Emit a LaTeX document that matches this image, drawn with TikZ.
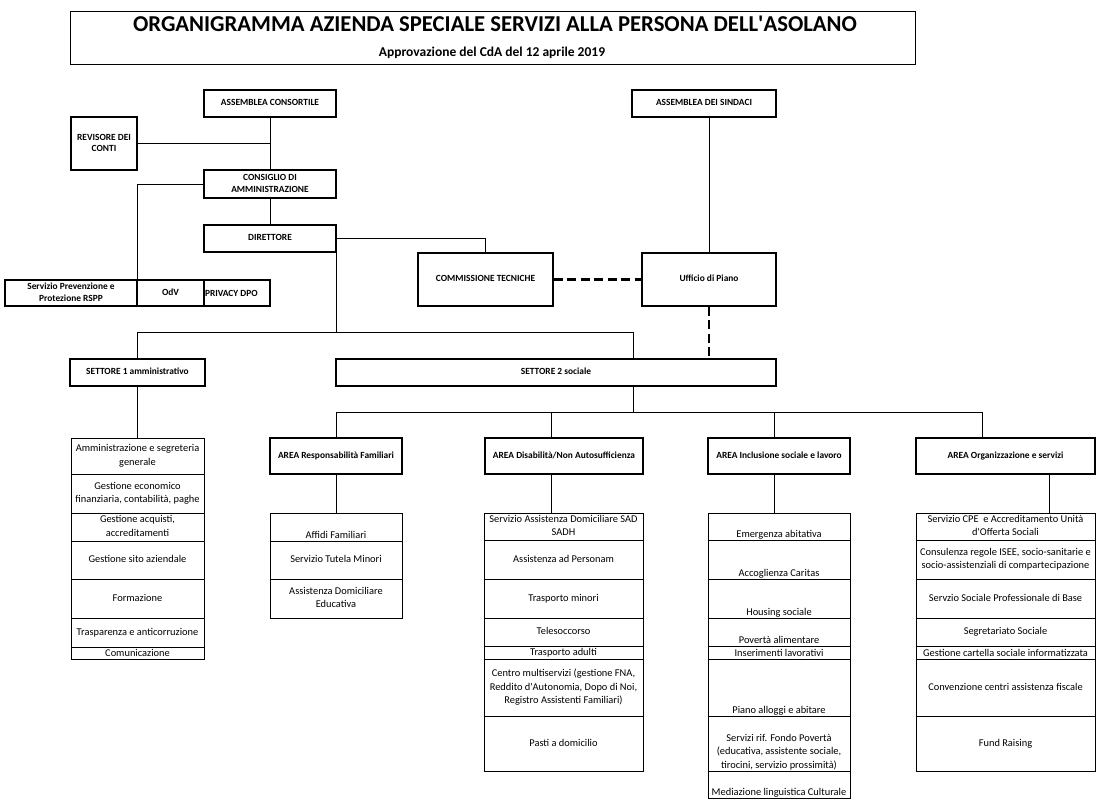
\documentclass[tikz,border=0pt]{standalone}
\usepackage{fontspec}
\setmainfont{Carlito}
\hyphenpenalty=10000
\exhyphenpenalty=10000
\tikzset{
  hbox/.style={draw, line width=1.8pt, font=\bfseries\fontsize{9.4}{11.5}\selectfont},
  cellbox/.style={draw, line width=0.9pt, font=\fontsize{10.4}{13.5}\selectfont},
  conn/.style={line width=0.9pt},
  dconn/.style={line width=2.2pt, dash pattern=on 9pt off 4.5pt},
}
% #1 style, #2 name, #3 x1, #4 y1, #5 x2, #6 y2, #7 valign (c/b), #8 text
\newcommand\mkcell[8]{%
  \pgfmathsetmacro\cellw{#5-#3}%
  \pgfmathsetmacro\cellh{#6-#4}%
  \node[#1, minimum width=\cellw pt, minimum height=\cellh pt, inner sep=0pt] (#2) at ({(#3+#5)/2},{(#4+#6)/2})
    {\parbox[c][\cellh pt][#7]{\cellw pt}{\centering\strut #8\strut\par\vspace{0pt}}};}
% bottom-aligned cell: #1 style, #2 name, #3 x1, #4 y1, #5 x2, #6 y2, #7 text
\newcommand\mkbot[7]{%
  \pgfmathsetmacro\cellw{#5-#3}%
  \pgfmathsetmacro\cellh{#6-#4}%
  \node[#1, minimum width=\cellw pt, minimum height=\cellh pt, inner sep=0pt] (#2) at ({(#3+#5)/2},{(#4+#6)/2})
    {\parbox[c][\cellh pt][b]{\cellw pt}{\centering\strut #7\strut\par\vspace{-1.5pt}}};}
\newcommand\mkthin[7]{%
  \pgfmathsetmacro\cellw{#5-#3}%
  \pgfmathsetmacro\cellh{#6-#4}%
  \node[#1, minimum width=\cellw pt, minimum height=\cellh pt, inner sep=0pt] (#2) at ({(#3+#5)/2},{(#4+#6)/2}) {#7};}
\begin{document}
\begin{tikzpicture}[x=1pt,y=-1pt]
\useasboundingbox (0,0) rectangle (1105,806);
% title
\node[draw, line width=1pt, minimum width=845pt, minimum height=53pt, inner sep=0pt] (tbox) at (492.5,37.5) {};
\node[anchor=base, inner sep=0pt, font=\bfseries\fontsize{22.7}{26}\selectfont] (ttl) at (495,31) {ORGANIGRAMMA AZIENDA SPECIALE SERVIZI ALLA PERSONA DELL\textquotesingle ASOLANO};
\node[anchor=base, inner sep=0pt, font=\bfseries\fontsize{13.5}{16}\selectfont] (sub) at (492,56) {Approvazione del CdA del 12 aprile 2019};
% upper boxes
\mkcell{hbox}{ac}{204}{90}{336}{117}{c}{ASSEMBLEA CONSORTILE}
\mkcell{hbox}{rev}{71}{117}{137}{170}{c}{REVISORE DEI\\CONTI}
\mkcell{hbox}{cda}{204}{170}{336}{198}{c}{CONSIGLIO DI\\AMMINISTRAZIONE}
\mkcell{hbox}{dir}{204}{225}{336}{252}{c}{DIRETTORE}
\mkcell{hbox}{rspp}{5}{280}{137}{306}{c}{Servizio Prevenzione e\\Protezione RSPP}
\mkcell{hbox}{odv}{137}{280}{204}{306}{c}{OdV}
\node[hbox, minimum width=66pt, minimum height=26pt, inner sep=0pt] (dpo) at (237,293) {\parbox{66pt}{\hspace*{1pt}PRIVACY DPO\hfill}};
\mkcell{hbox}{comm}{418}{253}{553}{306}{c}{COMMISSIONE TECNICHE}
\mkcell{hbox}{asind}{632}{90}{776}{117}{c}{ASSEMBLEA DEI SINDACI}
\mkcell{hbox}{up}{642}{253}{776}{306}{c}{Ufficio di Piano}
\mkcell{hbox}{s1}{70}{359}{205}{386}{c}{SETTORE 1 amministrativo}
\mkcell{hbox}{s2}{336}{359}{776}{386}{c}{SETTORE 2 sociale}
\mkcell{hbox}{a1}{270}{438}{402}{474}{c}{AREA Responsabilità Familiari}
\mkcell{hbox}{a2}{485}{438}{643}{474}{c}{AREA Disabilità/Non Autosufficienza}
\mkcell{hbox}{a3}{708}{438}{850}{474}{c}{AREA Inclusione sociale e lavoro}
\mkcell{hbox}{a4}{916}{438}{1095}{474}{c}{AREA Organizzazione e servizi}
% column 1
\mkcell{cellbox}{c1a}{71}{438}{204}{474}{c}{Amministrazione e segreteria\\generale}
\mkcell{cellbox}{c1b}{71}{474}{204}{513}{c}{Gestione economico\\finanziaria, contabilità, paghe}
\mkcell{cellbox}{c1c}{71}{513}{204}{541}{c}{Gestione acquisti,\\accreditamenti}
\mkcell{cellbox}{c1d}{71}{541}{204}{579}{c}{Gestione sito aziendale}
\mkcell{cellbox}{c1e}{71}{579}{204}{618}{c}{Formazione}
\mkcell{cellbox}{c1f}{71}{618}{204}{647}{c}{Trasparenza e anticorruzione}
\mkthin{cellbox}{c1g}{71}{647}{204}{659}{Comunicazione}
% column 2
\mkbot{cellbox}{c2a}{270}{513}{402}{541}{Affidi Familiari}
\mkcell{cellbox}{c2b}{270}{541}{402}{579}{c}{Servizio Tutela Minori}
\mkcell{cellbox}{c2c}{270}{579}{402}{618}{c}{Assistenza Domiciliare\\Educativa}
% column 3
\mkcell{cellbox}{c3a}{484}{513}{643}{540}{c}{Servizio Assistenza Domiciliare SAD\\SADH}
\mkcell{cellbox}{c3b}{484}{540}{643}{579}{c}{Assistenza ad Personam}
\mkcell{cellbox}{c3c}{484}{579}{643}{618}{c}{Trasporto minori}
\mkcell{cellbox}{c3d}{484}{618}{643}{646}{c}{Telesoccorso}
\mkthin{cellbox}{c3e}{484}{646}{643}{659}{Trasporto adulti}
\mkcell{cellbox}{c3f}{484}{659}{643}{716}{c}{Centro multiservizi (gestione FNA,\\Reddito d\textquotesingle Autonomia, Dopo di Noi,\\Registro Assistenti Familiari)}
\mkcell{cellbox}{c3g}{484}{716}{643}{771}{c}{Pasti a domicilio}
% column 4
\mkbot{cellbox}{c4a}{708}{513}{850}{540}{Emergenza abitativa}
\mkbot{cellbox}{c4b}{708}{540}{850}{579}{Accoglienza Caritas}
\mkbot{cellbox}{c4c}{708}{579}{850}{618}{Housing sociale}
\mkbot{cellbox}{c4d}{708}{618}{850}{646}{Povertà alimentare}
\mkthin{cellbox}{c4e}{708}{646}{850}{659}{Inserimenti lavorativi}
\mkbot{cellbox}{c4f}{708}{659}{850}{716}{Piano alloggi e abitare}
\mkbot{cellbox}{c4g}{708}{716}{850}{771}{Servizi rif. Fondo Povertà\\(educativa, assistente sociale,\\tirocini, servizio prossimità)}
\mkbot{cellbox}{c4h}{708}{771}{850}{798}{Mediazione linguistica Culturale}
% column 5
\mkcell{cellbox}{c5a}{916}{513}{1095}{540}{c}{Servizio CPE\ \ e Accreditamento Unità\\d\textquotesingle Offerta Sociali}
\mkcell{cellbox}{c5b}{916}{540}{1095}{579}{c}{Consulenza regole ISEE, socio-sanitarie e\\socio-assistenziali di compartecipazione}
\mkcell{cellbox}{c5c}{916}{579}{1095}{618}{c}{Servzio Sociale Professionale di Base}
\mkcell{cellbox}{c5d}{916}{618}{1095}{646}{c}{Segretariato Sociale}
\mkthin{cellbox}{c5e}{916}{646}{1095}{659}{Gestione cartella sociale informatizzata}
\mkcell{cellbox}{c5f}{916}{659}{1095}{716}{c}{Convenzione centri assistenza fiscale}
\mkcell{cellbox}{c5g}{916}{716}{1095}{771}{c}{Fund Raising}
% connectors
\coordinate (busA) at (633,332);
\coordinate (busB) at (633,412);
\draw[conn] (ac.south) -- (cda.north);
\draw[conn] (rev.east) -- (rev.east -| ac.south);
\draw[conn] (cda.west) -| (rspp.north east);
\draw[conn] (cda.south) -- (dir.north);
\draw[conn] (dir.east) -| (comm.north);
\draw[conn] (dir.south east) -- (dir.south east |- busA);
\draw[conn] (s1.north) |- (busA) -- (busA |- s2.north);
\draw[conn] (up.north) -- (up.north |- asind.south);
\draw[dconn] (comm.east) -- (up.west);
\draw[dconn] (up.south) -- (up.south |- s2.north);
\draw[conn] (s1.south) -- (c1a.north);
\draw[conn] (busB |- s2.south) -- (busB);
\draw[conn] (a1.north) |- ([xshift=-23.5pt]a4.north |- busB) -- ([xshift=-23.5pt]a4.north);
\draw[conn] ([xshift=-13pt]a2.north) -- ([xshift=-13pt]a2.north |- busB);
\draw[conn] ([xshift=-5pt]a3.north) -- ([xshift=-5pt]a3.north |- busB);
\draw[conn] (a1.south) -- (c2a.north);
\draw[conn] ([xshift=-13pt]a2.south) -- ([xshift=-13pt]a2.south |- c3a.north);
\draw[conn] ([xshift=-5pt]a3.south) -- ([xshift=-5pt]a3.south |- c4a.north);
\draw[conn] ([xshift=43.5pt]a4.south) -- ([xshift=43.5pt]a4.south |- c5a.north);
\end{tikzpicture}
\end{document}
